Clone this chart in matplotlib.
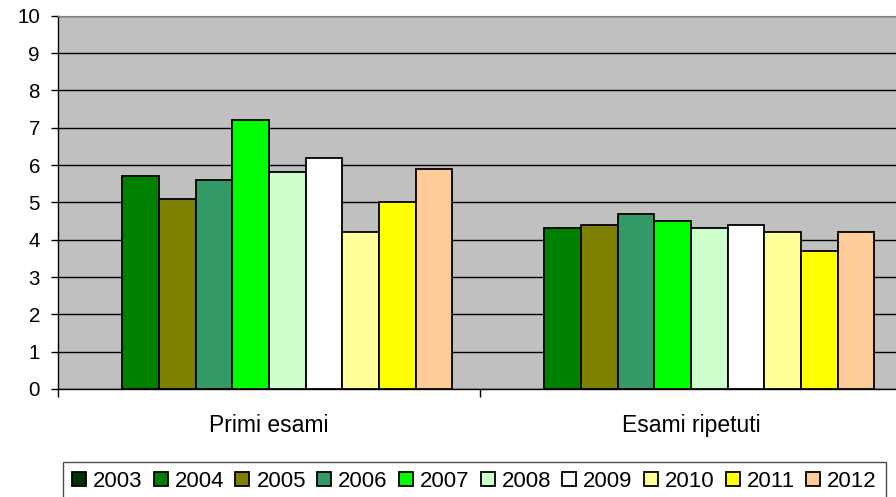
import matplotlib
matplotlib.use('Agg')
from matplotlib import pyplot as plt
import numpy as np

plt.rcParams['font.family'] = ['Liberation Sans', 'DejaVu Sans']

# data
categories = ['Primi esami', 'Esami ripetuti']
years = ['2003', '2004', '2005', '2006', '2007', '2008', '2009', '2010', '2011', '2012']
values = {
    '2003': [np.nan, np.nan],
    '2004': [5.7, 4.3],
    '2005': [5.1, 4.4],
    '2006': [5.6, 4.7],
    '2007': [7.2, 4.5],
    '2008': [5.8, 4.3],
    '2009': [6.2, 4.4],
    '2010': [4.2, 4.2],
    '2011': [5.0, 3.7],
    '2012': [5.9, 4.2],
}
colors = ['#003300', '#008000', '#808000', '#339966', '#00FF00',
          '#CCFFCC', '#FFFFFF', '#FFFF99', '#FFFF00', '#FFCC99']

W, H = 896, 497
fig = plt.figure(figsize=(W / 100, H / 100), dpi=100)
ax = fig.add_axes([58 / W, (H - 389) / H, (902 - 58) / W, (389 - 15.7) / H])
ax.set_facecolor('#C0C0C0')

n = len(years)
gap = 1.5  # gap width relative to one bar, as in excel
bw = 1.0 / (n + gap)
x = np.arange(len(categories))
for i, yr in enumerate(years):
    offs = (i - (n - 1) / 2) * bw
    ax.bar(x + offs, values[yr], width=bw, color=colors[i], edgecolor='black',
           linewidth=1.3, label=yr, zorder=3)

ax.set_xlim(-0.5, len(categories) - 0.5)
ax.set_ylim(0, 10)
ax.set_yticks(range(0, 11))
ax.yaxis.grid(True, color='black', linewidth=1.0, zorder=0)
ax.set_axisbelow(True)

ax.set_xticks([-0.5, 0.5, 1.5])
ax.set_xticklabels([])
ax.set_xticks(x, minor=True)
ax.set_xticklabels(categories, minor=True, fontsize=16.5)
ax.tick_params(axis='x', which='minor', length=0, pad=18)
ax.tick_params(axis='x', which='major', length=6, width=1, direction='out')
ax.tick_params(axis='y', length=5, width=1, direction='out', labelsize=14.8, pad=8)

for side in ['left', 'bottom']:
    ax.spines[side].set_color('black')
    ax.spines[side].set_linewidth(1.0)
ax.spines['top'].set_color('#808080')
ax.spines['right'].set_color('#808080')

leg = fig.legend(loc='upper left', bbox_to_anchor=(63 / W, 1 - 462 / H), ncol=n,
                 fontsize=16, frameon=True, fancybox=False, handlelength=0.63,
                 handleheight=0.63, handletextpad=0.32, columnspacing=0.5,
                 borderpad=0.4, borderaxespad=0)
leg.get_frame().set_edgecolor('#202020')
leg.get_frame().set_linewidth(1.0)

fig.savefig('out.png', dpi=100)
